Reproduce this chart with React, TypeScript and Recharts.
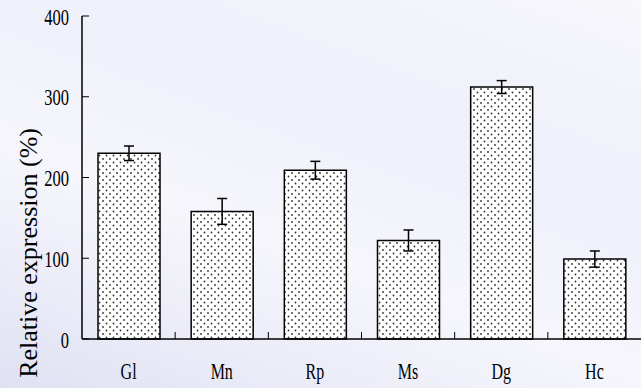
import { BarChart, Bar, XAxis, YAxis, ErrorBar, Label } from 'recharts';

// tissue abbreviations and relative expression (%) with error
const categories = ['Gl', 'Mn', 'Rp', 'Ms', 'Dg', 'Hc'];
const expression = [230, 158, 209, 122, 312, 99];
const errors = [9, 16, 11, 13, 8, 10];
const yTicks = [0, 100, 200, 300, 400];

const W = 641;
const H = 388;
const Y_AXIS_W = 82;

const data = categories.map((name, i) => ({
  name,
  value: expression[i],
  err: errors[i],
}));

const serif = { fontFamily: 'Liberation Serif, Times New Roman, DejaVu Serif, serif' };

// text in the picture is squeezed sideways, so stretch it a bit vertically
const YTick = (props: any) => {
  const { x, y, payload } = props;
  return (
    <g transform={`translate(${x},${y + 8.5}) scale(1,1.4)`}>
      <text x={0} y={0} textAnchor="end" style={serif} fontSize={16.5} fill="#000">
        {payload.value}
      </text>
    </g>
  );
};

const XTick = (props: any) => {
  const { x, y, payload, index } = props;
  const half = payload.offset || (W - Y_AXIS_W) / categories.length / 2;
  return (
    <g>
      {index < categories.length - 1 && (
        <line x1={x + half} x2={x + half} y1={y} y2={y - 7} stroke="#000" strokeWidth={1} />
      )}
      <g transform={`translate(${x},${y + 40}) scale(1,1.4)`}>
        <text x={0} y={0} textAnchor="middle" style={serif} fontSize={16} fill="#000">
          {payload.value}
        </text>
      </g>
    </g>
  );
};

export default function App() {
  return (
    <div
      style={{
        position: 'fixed',
        left: 0,
        top: 0,
        width: W,
        height: H,
        overflow: 'hidden',
        background:
          'linear-gradient(200deg, #f7f7fc 0%, #eef0fa 35%, #f6f6fc 60%, #e9eaf7 85%, #dfe0f2 100%)',
      }}
    >
      <BarChart
        width={W}
        height={H}
        data={data}
        margin={{ top: 16, right: 0, bottom: 0, left: 0 }}
      >
        <defs>
          <pattern id="dots" width="7" height="7" patternUnits="userSpaceOnUse">
            <rect width="7" height="7" fill="#fff" />
            <circle cx="1.5" cy="1.5" r="0.9" fill="#333" />
            <circle cx="5" cy="5" r="0.9" fill="#333" />
          </pattern>
        </defs>
        <XAxis
          dataKey="name"
          height={49}
          tickLine={false}
          tickSize={0}
          tickMargin={0}
          tick={<XTick />}
          axisLine={{ stroke: '#000', strokeWidth: 1.5 }}
          interval={0}
        />
        <YAxis
          type="number"
          domain={[0, 400]}
          ticks={yTicks}
          width={Y_AXIS_W}
          tickSize={-7}
          tickMargin={20}
          tick={<YTick />}
          tickLine={{ stroke: '#000', strokeWidth: 1 }}
          axisLine={{ stroke: '#000', strokeWidth: 1.5 }}
        >
          <Label
            content={() => (
              <text
                transform="translate(37,128) rotate(-90)"
                textAnchor="end"
                style={serif}
                fontSize={26}
                fill="#000"
              >
                Relative expression (%)
              </text>
            )}
          />
        </YAxis>
        <Bar
          dataKey="value"
          fill="url(#dots)"
          stroke="#000"
          strokeWidth={1.5}
          barSize={62}
          isAnimationActive={false}
        >
          <ErrorBar dataKey="err" width={5} stroke="#000" strokeWidth={1.5} />
        </Bar>
      </BarChart>
    </div>
  );
}
